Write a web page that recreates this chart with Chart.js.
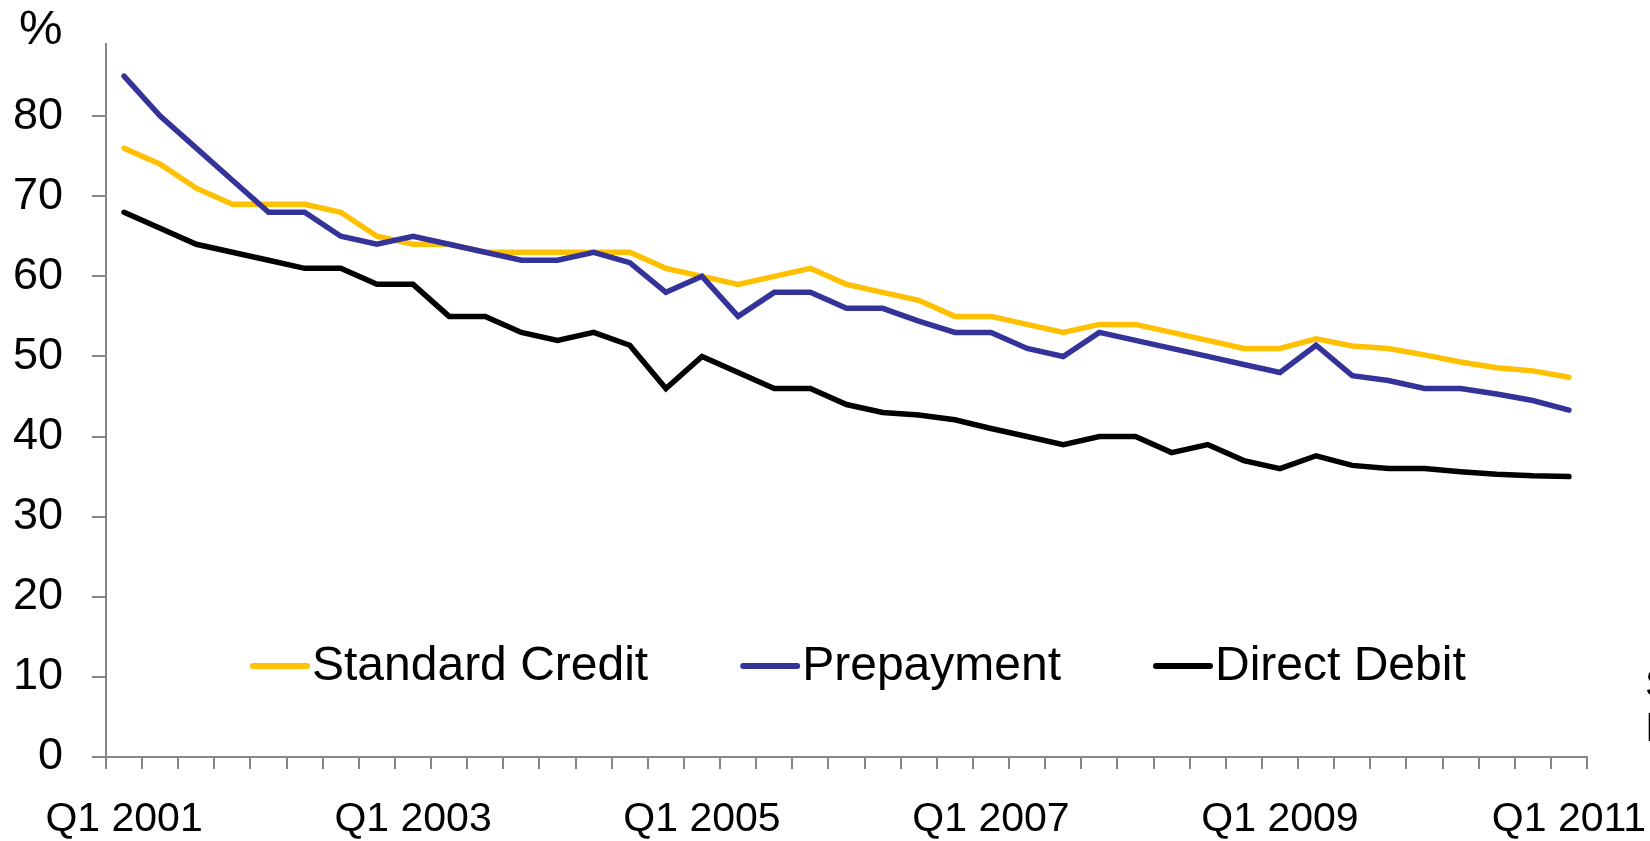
<!DOCTYPE html>
<html>
<head>
<meta charset="utf-8">
<script src="https://cdn.jsdelivr.net/npm/chart.js@4/dist/chart.umd.min.js"></script>
<style>
  body { margin: 0; background: #fff; }
  canvas { display: block; }
</style>
</head>
<body>
<canvas id="chart" width="1650" height="841"></canvas>
<script>
// Quarters Q1 2001 .. Q1 2011
const quarters = [];
for (let y = 2001; y <= 2011; y++) {
    for (let q = 1; q <= 4; q++) {
        if (y === 2011 && q > 1) break;
        quarters.push("Q" + q + " " + y);
    }
}

const standardCredit = [76, 74, 71, 69, 69, 69, 68, 65, 64, 64, 63, 63, 63, 63, 63, 61, 60, 59, 60, 61,
    59, 58, 57, 55, 55, 54, 53, 54, 54, 53, 52, 51, 51, 52.2, 51.3, 51, 50.2, 49.3, 48.6, 48.2, 47.4];
const prepayment = [85, 80, 76, 72, 68, 68, 65, 64, 65, 64, 63, 62, 62, 63, 61.7, 58, 60, 55, 58, 58,
    56, 56, 54.4, 53, 53, 51, 50, 53, 52, 51, 50, 49, 48, 51.4, 47.6, 47, 46, 46, 45.3, 44.5, 43.3];
const directDebit = [68, 66, 64, 63, 62, 61, 61, 59, 59, 55, 55, 53, 52, 53, 51.4, 46, 50, 48, 46, 46,
    44, 43, 42.7, 42.1, 41, 40, 39, 40, 40, 38, 39, 37, 36, 37.6, 36.4, 36, 36, 35.6, 35.3, 35.1, 35];

const yTicks = [0, 10, 20, 30, 40, 50, 60, 70, 80];

const axisGrey = "#868686";
const fontFamily = "'Liberation Sans', Arial, sans-serif";

// legend drawn inside the plot, plus the "%" unit and the clipped side note
const extrasPlugin = {
    id: "extras",
    afterDatasetsDraw(chart) {
        const ctx = chart.ctx;
        const area = chart.chartArea;
        ctx.save();

        // unit label
        ctx.fillStyle = "#000";
        ctx.font = "49px " + fontFamily;
        ctx.textAlign = "left";
        ctx.textBaseline = "alphabetic";
        ctx.fillText("%", 19, 44);

        // legend
        ctx.font = "48px " + fontFamily;
        ctx.textBaseline = "middle";
        let x = area.left + 147;
        const y = 666;
        chart.data.datasets.forEach(ds => {
            ctx.strokeStyle = ds.borderColor;
            ctx.lineWidth = 6;
            ctx.lineCap = "round";
            ctx.beginPath();
            ctx.moveTo(x, y);
            ctx.lineTo(x + 54, y);
            ctx.stroke();
            ctx.fillStyle = "#000";
            ctx.fillText(ds.label, x + 59, y + 1);
            x += 59 + ctx.measureText(ds.label).width + 95;
        });

        // note text cut off by the right edge
        ctx.font = "40px " + fontFamily;
        ctx.textBaseline = "alphabetic";
        ctx.fillText("S", 1645, 697);
        ctx.fillText("I", 1645, 741);
        ctx.restore();
    }
};

new Chart(document.getElementById("chart"), {
    type: "line",
    data: {
        labels: quarters,
        datasets: [
            { label: "Standard Credit", data: standardCredit, borderColor: "#FFC000", order: 1 },
            { label: "Prepayment", data: prepayment, borderColor: "#333399", order: 0 },
            { label: "Direct Debit", data: directDebit, borderColor: "#000000", order: 2 }
        ]
    },
    options: {
        responsive: false,
        devicePixelRatio: 1,
        animation: false,
        layout: { padding: { top: 44, right: 63, left: 0, bottom: 0 } },
        elements: {
            line: { borderWidth: 5.5, tension: 0, borderCapStyle: "round", borderJoinStyle: "miter", fill: false },
            point: { radius: 0, hoverRadius: 0 }
        },
        plugins: {
            legend: { display: false },
            tooltip: { enabled: false }
        },
        scales: {
            x: {
                offset: true,
                grid: { drawOnChartArea: false, drawTicks: true, tickLength: 12, color: axisGrey, lineWidth: 2, offset: true },
                border: { color: axisGrey, width: 2 },
                ticks: {
                    autoSkip: false,
                    maxRotation: 0,
                    minRotation: 0,
                    padding: 26,
                    color: "#000",
                    font: { size: 41, family: fontFamily },
                    callback: (v, i) => (i % 8 === 0 ? quarters[i] : "")
                },
                afterFit: s => { s.height = 84; s.paddingLeft = 0; s.paddingRight = 0; }
            },
            y: {
                min: 0,
                max: 89,
                afterBuildTicks: s => { s.ticks = yTicks.map(v => ({ value: v })); },
                grid: { drawOnChartArea: false, drawTicks: true, tickLength: 14, color: axisGrey, lineWidth: 2 },
                border: { color: axisGrey, width: 2 },
                ticks: {
                    padding: 29,
                    color: "#000",
                    font: { size: 45, family: fontFamily }
                },
                afterFit: s => { s.width = 106; s.paddingTop = 0; s.paddingBottom = 0; }
            }
        }
    },
    plugins: [extrasPlugin]
});
</script>
</body>
</html>
